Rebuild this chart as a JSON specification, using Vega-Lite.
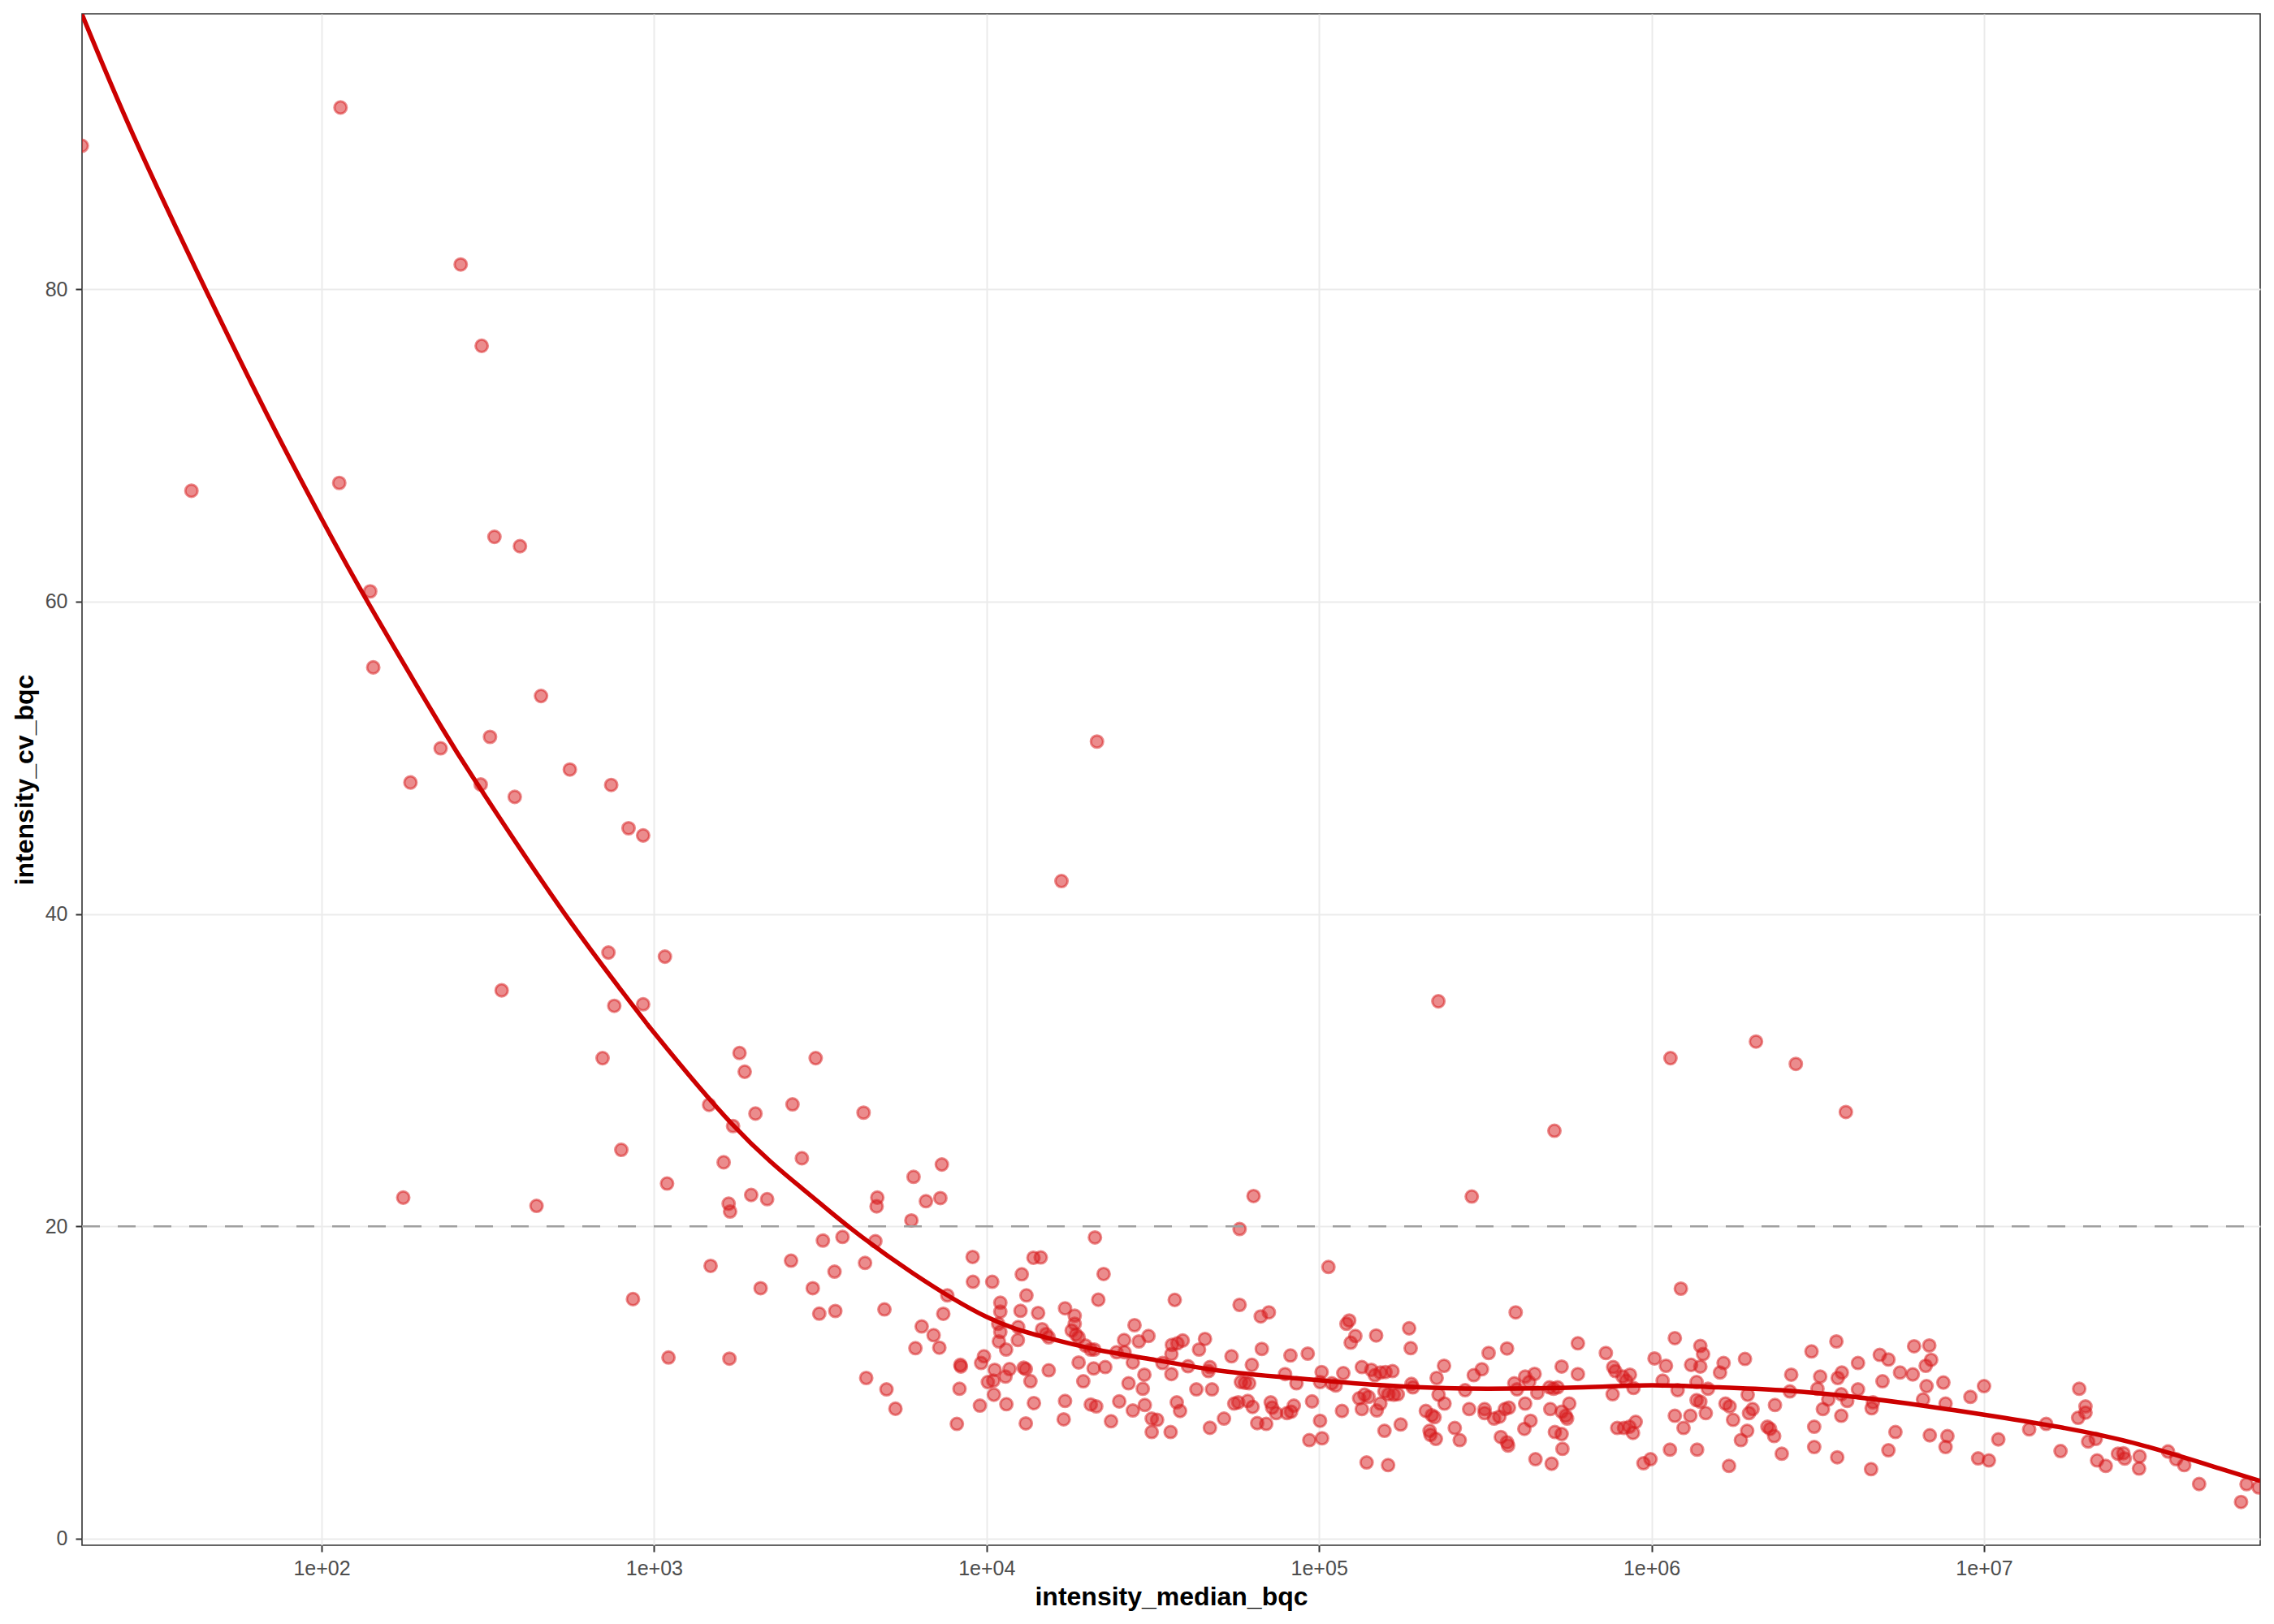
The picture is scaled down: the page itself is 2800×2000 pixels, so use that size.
{
  "$schema": "https://vega.github.io/schema/vega-lite/v6.json",
  "width": 2682,
  "height": 1886,
  "autosize": {"type": "none"},
  "padding": {"left": 101, "top": 17, "right": 17, "bottom": 97},
  "background": "white",
  "datasets": {
    "points": [
      {"median": 19.0, "cv": 89.19}, {"median": 114, "cv": 91.64}, {"median": 40.6, "cv": 67.1}, {"median": 262, "cv": 81.59},
      {"median": 303, "cv": 76.38}, {"median": 113, "cv": 67.6}, {"median": 331, "cv": 64.15}, {"median": 395, "cv": 63.55},
      {"median": 140, "cv": 60.66}, {"median": 143, "cv": 55.79}, {"median": 457, "cv": 53.96}, {"median": 321, "cv": 51.34},
      {"median": 228, "cv": 50.61}, {"median": 185, "cv": 48.42}, {"median": 301, "cv": 48.29}, {"median": 558, "cv": 49.25},
      {"median": 743, "cv": 48.26}, {"median": 381, "cv": 47.5}, {"median": 21480, "cv": 51.04},
      {"median": 838, "cv": 45.49}, {"median": 927, "cv": 45.03}, {"median": 16800, "cv": 42.11}, {"median": 729, "cv": 37.53},
      {"median": 1078, "cv": 37.27}, {"median": 348, "cv": 35.11}, {"median": 759, "cv": 34.12}, {"median": 927, "cv": 34.22},
      {"median": 700, "cv": 30.77}, {"median": 1807, "cv": 31.1}, {"median": 1873, "cv": 29.9}, {"median": 3062, "cv": 30.77},
      {"median": 1464, "cv": 27.78}, {"median": 2608, "cv": 27.81}, {"median": 4266, "cv": 27.28}, {"median": 2018, "cv": 27.22},
      {"median": 1728, "cv": 26.42}, {"median": 797, "cv": 24.9}, {"median": 1619, "cv": 24.1}, {"median": 2783, "cv": 24.36},
      {"median": 7336, "cv": 23.96}, {"median": 6031, "cv": 23.17}, {"median": 1094, "cv": 22.74}, {"median": 6570, "cv": 21.61},
      {"median": 7261, "cv": 21.81}, {"median": 1959, "cv": 22.01}, {"median": 2188, "cv": 21.74}, {"median": 1676, "cv": 21.45},
      {"median": 1693, "cv": 20.95}, {"median": 4692, "cv": 21.84}, {"median": 4669, "cv": 21.28}, {"median": 5941, "cv": 20.38},
      {"median": 176, "cv": 21.84}, {"median": 443, "cv": 21.31}, {"median": 1479, "cv": 17.47}, {"median": 864, "cv": 15.34},
      {"median": 1105, "cv": 11.6}, {"median": 1685, "cv": 11.53}, {"median": 2582, "cv": 17.8}, {"median": 2091, "cv": 16.04},
      {"median": 3001, "cv": 16.04}, {"median": 3489, "cv": 17.1}, {"median": 3139, "cv": 14.41}, {"median": 3508, "cv": 14.58},
      {"median": 3219, "cv": 19.09}, {"median": 3687, "cv": 19.32},
      {"median": 228500, "cv": 34.41}, {"median": 1140000, "cv": 30.77}, {"median": 2061000, "cv": 31.83}, {"median": 2716000, "cv": 30.4},
      {"median": 3841000, "cv": 27.32}, {"median": 510400, "cv": 26.12}, {"median": 287900, "cv": 21.91}, {"median": 63530, "cv": 21.94},
      {"median": 4630, "cv": 19.05}, {"median": 4310, "cv": 17.66}, {"median": 4930, "cv": 14.68}, {"median": 6380, "cv": 13.59},
      {"median": 6930, "cv": 13.03}, {"median": 6110, "cv": 12.2}, {"median": 7210, "cv": 12.23}, {"median": 7410, "cv": 14.4},
      {"median": 7620, "cv": 15.58}, {"median": 9080, "cv": 18.04}, {"median": 9100, "cv": 16.45}, {"median": 10400, "cv": 16.45},
      {"median": 11000, "cv": 15.11}, {"median": 11000, "cv": 14.54}, {"median": 10840, "cv": 13.76}, {"median": 11000, "cv": 13.24},
      {"median": 10890, "cv": 12.63}, {"median": 11450, "cv": 12.11}, {"median": 12420, "cv": 12.72}, {"median": 12450, "cv": 13.55},
      {"median": 12650, "cv": 14.59}, {"median": 13180, "cv": 15.58}, {"median": 12760, "cv": 16.93}, {"median": 13840, "cv": 17.99},
      {"median": 14550, "cv": 18.01}, {"median": 14290, "cv": 14.45}, {"median": 14690, "cv": 13.41}, {"median": 15100, "cv": 13.1},
      {"median": 15380, "cv": 12.89}, {"median": 17220, "cv": 14.75}, {"median": 18410, "cv": 14.28}, {"median": 18410, "cv": 13.76},
      {"median": 18030, "cv": 13.33}, {"median": 18580, "cv": 13.07}, {"median": 18920, "cv": 12.89}, {"median": 19820, "cv": 12.37},
      {"median": 20560, "cv": 12.11}, {"median": 21090, "cv": 12.11}, {"median": 21180, "cv": 19.29}, {"median": 22490, "cv": 16.95},
      {"median": 21680, "cv": 15.3}, {"median": 18920, "cv": 11.28}, {"median": 20990, "cv": 10.9}, {"median": 22750, "cv": 10.99},
      {"median": 19540, "cv": 10.08}, {"median": 24600, "cv": 11.94}, {"median": 25920, "cv": 12.72}, {"median": 26000, "cv": 11.94},
      {"median": 27540, "cv": 11.28}, {"median": 27860, "cv": 13.67}, {"median": 28710, "cv": 12.63}, {"median": 30690, "cv": 12.98},
      {"median": 29830, "cv": 10.5}, {"median": 26730, "cv": 9.95}, {"median": 29500, "cv": 9.6}, {"median": 33810, "cv": 11.25},
      {"median": 35970, "cv": 11.82}, {"median": 36100, "cv": 12.41}, {"median": 37500, "cv": 12.51}, {"median": 38900, "cv": 12.69},
      {"median": 36810, "cv": 15.29}, {"median": 35970, "cv": 10.54}, {"median": 40360, "cv": 11.04}, {"median": 43550, "cv": 12.11},
      {"median": 45390, "cv": 12.79}, {"median": 46960, "cv": 10.99}, {"median": 46500, "cv": 10.73}, {"median": 42760, "cv": 9.56},
      {"median": 47640, "cv": 9.56}, {"median": 4345, "cv": 10.29}, {"median": 5000, "cv": 9.56}, {"median": 5320, "cv": 8.32},
      {"median": 8140, "cv": 7.35}, {"median": 8290, "cv": 9.6}, {"median": 8340, "cv": 11.13}, {"median": 8370, "cv": 11.02},
      {"median": 9820, "cv": 11.68}, {"median": 9630, "cv": 11.25}, {"median": 10580, "cv": 10.81}, {"median": 11720, "cv": 10.86},
      {"median": 11400, "cv": 10.38}, {"median": 10090, "cv": 10.03}, {"median": 10480, "cv": 10.12}, {"median": 10520, "cv": 9.22},
      {"median": 9550, "cv": 8.52}, {"median": 11470, "cv": 8.61}, {"median": 12930, "cv": 10.95}, {"median": 13120, "cv": 10.86},
      {"median": 13550, "cv": 10.08}, {"median": 15380, "cv": 10.78}, {"median": 13880, "cv": 8.68}, {"median": 13120, "cv": 7.38},
      {"median": 17220, "cv": 8.82}, {"median": 17060, "cv": 7.64}, {"median": 20580, "cv": 8.59}, {"median": 21370, "cv": 8.47},
      {"median": 23680, "cv": 7.52}, {"median": 25060, "cv": 8.79}, {"median": 27540, "cv": 8.21}, {"median": 29920, "cv": 8.56},
      {"median": 31380, "cv": 7.69}, {"median": 32580, "cv": 7.61}, {"median": 31380, "cv": 6.83}, {"median": 35770, "cv": 6.83},
      {"median": 37330, "cv": 8.73}, {"median": 38190, "cv": 8.18}, {"median": 46960, "cv": 7.1},
      {"median": 57680, "cv": 19.83}, {"median": 57680, "cv": 14.97}, {"median": 66770, "cv": 14.23}, {"median": 70630, "cv": 14.49},
      {"median": 106700, "cv": 17.4}, {"median": 54540, "cv": 11.68}, {"median": 62790, "cv": 11.13}, {"median": 67270, "cv": 12.15},
      {"median": 82030, "cv": 11.73}, {"median": 92470, "cv": 11.85}, {"median": 79030, "cv": 10.54}, {"median": 85510, "cv": 9.95},
      {"median": 58210, "cv": 10.03}, {"median": 59900, "cv": 9.98}, {"median": 61610, "cv": 9.95}, {"median": 55590, "cv": 8.65},
      {"median": 57150, "cv": 8.73}, {"median": 61030, "cv": 8.82}, {"median": 63100, "cv": 8.44}, {"median": 51760, "cv": 7.69},
      {"median": 65160, "cv": 7.4}, {"median": 69340, "cv": 7.35}, {"median": 71540, "cv": 8.73}, {"median": 72250, "cv": 8.39},
      {"median": 74300, "cv": 8.04}, {"median": 80100, "cv": 8.04}, {"median": 82410, "cv": 8.13}, {"median": 83950, "cv": 8.52},
      {"median": 95240, "cv": 8.79}, {"median": 100700, "cv": 7.55}, {"median": 93480, "cv": 6.31}, {"median": 102100, "cv": 6.43},
      {"median": 101800, "cv": 10.67}, {"median": 100700, "cv": 10.03}, {"median": 109200, "cv": 9.95}, {"median": 112200, "cv": 9.81},
      {"median": 118300, "cv": 10.6}, {"median": 120900, "cv": 13.76}, {"median": 123200, "cv": 13.97}, {"median": 128600, "cv": 12.98},
      {"median": 124500, "cv": 12.55}, {"median": 148500, "cv": 13.01}, {"median": 134500, "cv": 10.99}, {"median": 143600, "cv": 10.81},
      {"median": 147200, "cv": 10.47}, {"median": 152900, "cv": 10.64}, {"median": 158500, "cv": 10.67}, {"median": 166300, "cv": 10.73},
      {"median": 132000, "cv": 8.99}, {"median": 137000, "cv": 9.22}, {"median": 140900, "cv": 9.08}, {"median": 134500, "cv": 8.3},
      {"median": 149100, "cv": 8.21}, {"median": 152900, "cv": 8.65}, {"median": 117200, "cv": 8.18}, {"median": 157300, "cv": 6.91},
      {"median": 176000, "cv": 7.31}, {"median": 139000, "cv": 4.88}, {"median": 161300, "cv": 4.71}, {"median": 157300, "cv": 9.43},
      {"median": 161600, "cv": 9.25}, {"median": 167700, "cv": 9.22}, {"median": 172500, "cv": 9.25}, {"median": 186600, "cv": 13.47},
      {"median": 188600, "cv": 12.2}, {"median": 189600, "cv": 9.91}, {"median": 191400, "cv": 9.69}, {"median": 225800, "cv": 10.29},
      {"median": 237600, "cv": 11.07}, {"median": 228800, "cv": 9.22}, {"median": 238400, "cv": 8.65}, {"median": 209500, "cv": 8.18},
      {"median": 218300, "cv": 7.9}, {"median": 222500, "cv": 7.78}, {"median": 215000, "cv": 6.91}, {"median": 216300, "cv": 6.65},
      {"median": 224500, "cv": 6.39}, {"median": 256000, "cv": 7.09}, {"median": 264900, "cv": 6.31}, {"median": 275000, "cv": 9.51},
      {"median": 282800, "cv": 8.3}, {"median": 292000, "cv": 10.47}, {"median": 308800, "cv": 10.85}, {"median": 323600, "cv": 11.89},
      {"median": 314700, "cv": 8.3}, {"median": 314700, "cv": 8.04}, {"median": 336000, "cv": 7.69}, {"median": 348700, "cv": 7.81},
      {"median": 362100, "cv": 8.3}, {"median": 372400, "cv": 8.39}, {"median": 352100, "cv": 6.51}, {"median": 367600, "cv": 6.17},
      {"median": 370300, "cv": 5.96}, {"median": 367600, "cv": 12.18}, {"median": 390300, "cv": 14.49}, {"median": 386600, "cv": 9.95},
      {"median": 393900, "cv": 9.56}, {"median": 416800, "cv": 10.38}, {"median": 428500, "cv": 10.03}, {"median": 444900, "cv": 10.55},
      {"median": 453400, "cv": 9.34}, {"median": 416800, "cv": 8.65}, {"median": 432600, "cv": 7.55}, {"median": 414500, "cv": 7.03},
      {"median": 447600, "cv": 5.09}, {"median": 500700, "cv": 4.8}, {"median": 493200, "cv": 9.69}, {"median": 507200, "cv": 9.6},
      {"median": 521600, "cv": 9.69}, {"median": 496000, "cv": 8.3}, {"median": 536500, "cv": 11.02}, {"median": 600400, "cv": 12.51},
      {"median": 600400, "cv": 10.54}, {"median": 565600, "cv": 8.65}, {"median": 536500, "cv": 8.13}, {"median": 552000, "cv": 7.87},
      {"median": 557200, "cv": 7.69}, {"median": 512000, "cv": 6.83}, {"median": 536500, "cv": 6.7}, {"median": 539500, "cv": 5.75},
      {"median": 1225000, "cv": 16.01}, {"median": 728800, "cv": 11.89}, {"median": 766700, "cv": 10.99}, {"median": 778300, "cv": 10.73},
      {"median": 818700, "cv": 10.38}, {"median": 861000, "cv": 10.5}, {"median": 838700, "cv": 10.12}, {"median": 882500, "cv": 9.65},
      {"median": 763800, "cv": 9.25}, {"median": 788500, "cv": 7.09}, {"median": 826400, "cv": 7.09}, {"median": 857800, "cv": 7.17},
      {"median": 896000, "cv": 7.48}, {"median": 879400, "cv": 6.77}, {"median": 945600, "cv": 4.83}, {"median": 992900, "cv": 5.09},
      {"median": 1136000, "cv": 5.7}, {"median": 1021000, "cv": 11.54}, {"median": 1105000, "cv": 11.07}, {"median": 1080000, "cv": 10.12},
      {"median": 1198000, "cv": 9.51}, {"median": 1175000, "cv": 12.84}, {"median": 1175000, "cv": 7.87}, {"median": 1248000, "cv": 7.09},
      {"median": 1308000, "cv": 7.87}, {"median": 1315000, "cv": 11.13}, {"median": 1402000, "cv": 12.34}, {"median": 1429000, "cv": 11.82},
      {"median": 1402000, "cv": 11.02}, {"median": 1366000, "cv": 10.03}, {"median": 1478000, "cv": 9.6}, {"median": 1366000, "cv": 8.87},
      {"median": 1402000, "cv": 8.77}, {"median": 1456000, "cv": 8.04}, {"median": 1371000, "cv": 5.7}, {"median": 1607000, "cv": 10.64},
      {"median": 1647000, "cv": 11.25}, {"median": 1669000, "cv": 8.65}, {"median": 1717000, "cv": 8.47}, {"median": 1759000, "cv": 7.61},
      {"median": 1910000, "cv": 11.51}, {"median": 1946000, "cv": 9.22}, {"median": 2013000, "cv": 8.3}, {"median": 1964000, "cv": 8.04},
      {"median": 1939000, "cv": 6.91}, {"median": 1857000, "cv": 6.31}, {"median": 1710000, "cv": 4.66}, {"median": 2231000, "cv": 7.17},
      {"median": 2273000, "cv": 7.03}, {"median": 2338000, "cv": 6.57}, {"median": 2351000, "cv": 8.56}, {"median": 2464000, "cv": 5.44},
      {"median": 2606000, "cv": 9.43}, {"median": 2631000, "cv": 10.5}, {"median": 3028000, "cv": 11.99}, {"median": 3155000, "cv": 9.6},
      {"median": 3215000, "cv": 10.38}, {"median": 3276000, "cv": 8.3}, {"median": 3401000, "cv": 8.91}, {"median": 3085000, "cv": 7.17},
      {"median": 3085000, "cv": 5.87}, {"median": 3597000, "cv": 12.63}, {"median": 3631000, "cv": 10.29}, {"median": 3735000, "cv": 10.64},
      {"median": 3721000, "cv": 9.25}, {"median": 3878000, "cv": 8.82}, {"median": 3721000, "cv": 7.87}, {"median": 3618000, "cv": 5.21},
      {"median": 4178000, "cv": 11.25}, {"median": 4178000, "cv": 9.56}, {"median": 4634000, "cv": 8.73}, {"median": 4592000, "cv": 8.35},
      {"median": 4574000, "cv": 4.45}, {"median": 4858000, "cv": 11.77}, {"median": 5158000, "cv": 11.47}, {"median": 4950000, "cv": 10.08},
      {"median": 5590000, "cv": 10.64}, {"median": 6105000, "cv": 10.52}, {"median": 6162000, "cv": 12.32}, {"median": 6845000, "cv": 12.37},
      {"median": 6934000, "cv": 11.45}, {"median": 6677000, "cv": 11.07}, {"median": 6717000, "cv": 9.77}, {"median": 6556000, "cv": 8.91},
      {"median": 7547000, "cv": 10.0}, {"median": 7661000, "cv": 8.65}, {"median": 5415000, "cv": 6.83}, {"median": 5158000, "cv": 5.66},
      {"median": 6870000, "cv": 6.62}, {"median": 7661000, "cv": 5.87}, {"median": 7762000, "cv": 6.57},
      {"median": 9100000, "cv": 9.08}, {"median": 10000000, "cv": 9.77}, {"median": 11040000, "cv": 6.36}, {"median": 9600000, "cv": 5.14},
      {"median": 10340000, "cv": 5.01}, {"median": 13670000, "cv": 7.0}, {"median": 15380000, "cv": 7.35}, {"median": 16990000, "cv": 5.61},
      {"median": 19330000, "cv": 9.6}, {"median": 20190000, "cv": 8.47}, {"median": 20190000, "cv": 8.07}, {"median": 19190000, "cv": 7.74},
      {"median": 20570000, "cv": 6.22}, {"median": 21680000, "cv": 6.39}, {"median": 21880000, "cv": 5.01}, {"median": 23230000, "cv": 4.66},
      {"median": 25280000, "cv": 5.44}, {"median": 26250000, "cv": 5.47}, {"median": 26490000, "cv": 5.13}, {"median": 29370000, "cv": 5.27},
      {"median": 29260000, "cv": 4.49}, {"median": 35760000, "cv": 5.58}, {"median": 37820000, "cv": 5.09}, {"median": 40000000, "cv": 4.71},
      {"median": 44360000, "cv": 3.5}, {"median": 61600000, "cv": 3.49}, {"median": 59300000, "cv": 2.35}, {"median": 67000000, "cv": 3.28}
    ],
    "smooth": [
      {"median": 19.03, "cv": 97.6}, {"median": 27.16, "cv": 89.85}, {"median": 44.87, "cv": 79.95}, {"median": 69.98, "cv": 71.6},
      {"median": 100, "cv": 65.3}, {"median": 140.9, "cv": 59.6}, {"median": 229.6, "cv": 51.95}, {"median": 298.8, "cv": 48.1},
      {"median": 539.0, "cv": 40.0}, {"median": 924.7, "cv": 33.32}, {"median": 1000, "cv": 32.4}, {"median": 1712, "cv": 26.57},
      {"median": 2826, "cv": 22.32}, {"median": 3916, "cv": 19.85}, {"median": 6004, "cv": 17.0},
      {"median": 10000, "cv": 14.2}, {"median": 14690, "cv": 12.95}, {"median": 21380, "cv": 12.11},
      {"median": 31050, "cv": 11.5}, {"median": 49660, "cv": 10.77}, {"median": 79250, "cv": 10.33}, {"median": 126800, "cv": 9.95},
      {"median": 202800, "cv": 9.69}, {"median": 323600, "cv": 9.6}, {"median": 623700, "cv": 9.69}, {"median": 1000000, "cv": 9.82},
      {"median": 1592000, "cv": 9.69}, {"median": 2541000, "cv": 9.48}, {"median": 4064000, "cv": 9.08}, {"median": 5916000, "cv": 8.65},
      {"median": 7834000, "cv": 8.28}, {"median": 10000000, "cv": 7.94}, {"median": 16600000, "cv": 7.17}, {"median": 29110000, "cv": 6.05},
      {"median": 51050000, "cv": 4.5}, {"median": 67700000, "cv": 3.7}
    ]
  },
  "encoding": {
    "x": {
      "field": "median",
      "type": "quantitative",
      "title": "intensity_median_bqc",
      "scale": {"type": "log", "domain": [19.03, 67700000], "nice": false, "zero": false},
      "axis": {
        "values": [100, 1000, 10000, 100000, 1000000, 10000000],
        "labelExpr": "replace(format(datum.value, '.0e'), 'e+', 'e+0')",
        "labelPadding": 8,
        "titlePadding": 7
      }
    },
    "y": {
      "field": "cv",
      "type": "quantitative",
      "title": "intensity_cv_bqc",
      "scale": {"domain": [-0.42, 97.64], "nice": false, "zero": false},
      "axis": {
        "values": [0, 20, 40, 60, 80],
        "labelPadding": 10,
        "titlePadding": 8
      }
    }
  },
  "layer": [
    {
      "data": {"name": "points"},
      "mark": {
        "type": "circle",
        "clip": true,
        "size": 227,
        "color": "#D7191C",
        "fillOpacity": 0.5,
        "stroke": "#D7191C",
        "strokeOpacity": 0.5,
        "strokeWidth": 3
      }
    },
    {
      "data": {"values": [{"threshold": 20}]},
      "mark": {"type": "rule", "color": "#A0A0A0", "strokeWidth": 2.5, "strokeDash": [22, 22]},
      "encoding": {
        "x": {"value": 0},
        "x2": {"value": 2682},
        "y": {"field": "threshold", "type": "quantitative"}
      }
    },
    {
      "data": {"name": "smooth"},
      "mark": {"type": "line", "clip": true, "color": "#CC0000", "strokeWidth": 5.5, "interpolate": "natural"}
    }
  ],
  "config": {
    "font": "Liberation Sans",
    "view": {"stroke": "#333333", "strokeWidth": 1.6},
    "axis": {
      "domain": false,
      "grid": true,
      "gridColor": "#EBEBEB",
      "gridWidth": 2,
      "tickColor": "#333333",
      "tickWidth": 2,
      "tickSize": 8,
      "labelFont": "Liberation Sans",
      "labelFontSize": 25,
      "labelColor": "#4D4D4D",
      "titleFont": "Liberation Sans",
      "titleFontSize": 32,
      "titleFontWeight": "bold",
      "titleColor": "#000000"
    }
  }
}
